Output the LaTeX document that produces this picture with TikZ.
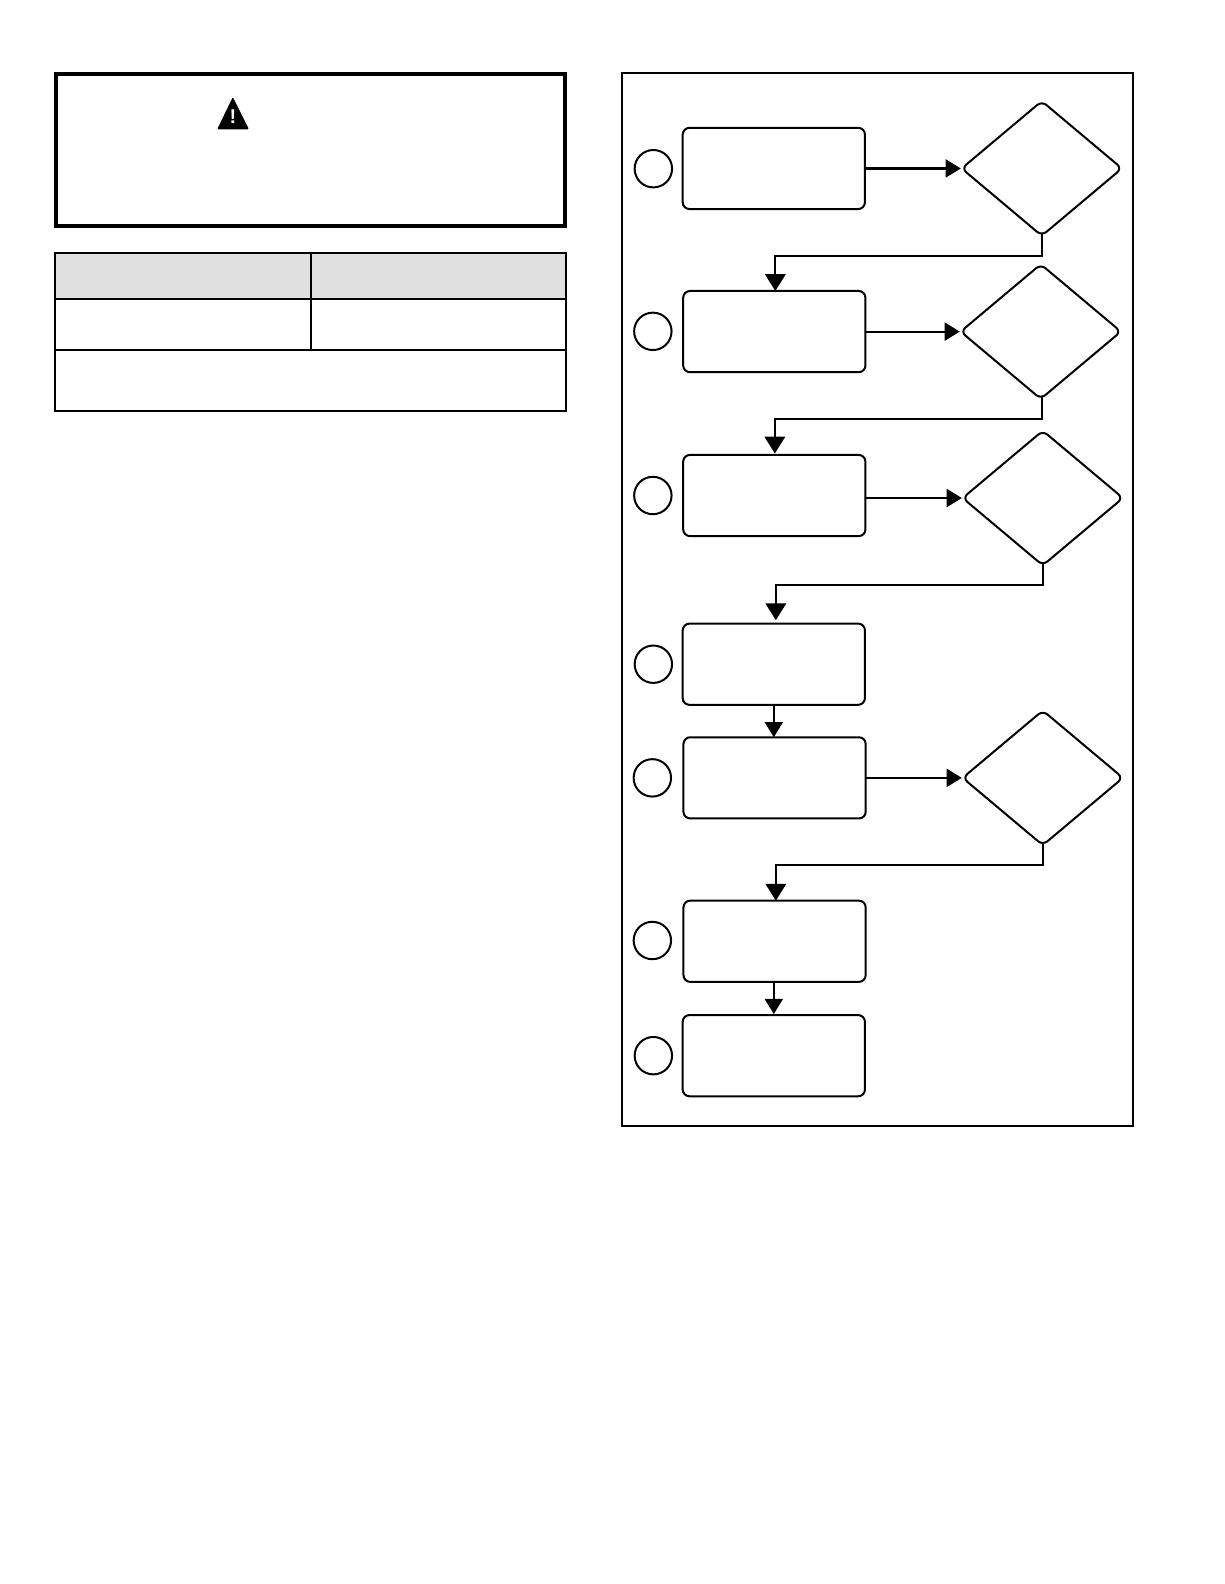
\documentclass[tikz,border=0pt]{standalone}
\usepackage{fontspec}
\setsansfont{Liberation Sans}
\usetikzlibrary{arrows.meta,shapes.geometric}
\definecolor{headgray}{HTML}{E0E0E0}
\begin{document}
\begin{tikzpicture}[
    x=0.50495bp, y=-0.50495bp,
    frame/.style={rectangle, draw, line width=1bp, inner sep=0pt, outer sep=0pt},
    warnframe/.style={frame, line width=1.9bp,
              minimum width=254.5bp, minimum height=75.7bp},
    headcell/.style={frame, fill=headgray,
              minimum width=127.8bp, minimum height=22.9bp},
    rowcell/.style={frame,
              minimum width=127.8bp, minimum height=25.5bp},
    footcell/.style={frame,
              minimum width=255.5bp, minimum height=30.3bp},
    stepbox/.style={frame, rounded corners=3.4bp,
              minimum width=91.1bp, minimum height=40.6bp},
    stepnum/.style={circle, draw, line width=1bp, inner sep=0pt, outer sep=0pt,
              minimum size=18.7bp},
    decision/.style={diamond, draw, line width=1bp, rounded corners=3bp,
              inner sep=0pt, outer sep=0pt, aspect=1.19,
              minimum width=80.1bp, minimum height=67.3bp},
    arrow/.style={-{Triangle[length=7.6bp, width=9bp]}, line width=1.1bp},
    elbow/.style={-{Triangle[length=8.4bp, width=10.2bp]}, line width=1.1bp}
]
    \useasboundingbox (0, 0) rectangle (1212, 1568);

    % warning box and table
    \node[warnframe] (warning) at (307.25, 148.5) {};
    \fill[rounded corners=0.6bp] (230.5, 96) -- (246.5, 128) -- (215, 128) -- cycle;
    \node[text=white, font=\sffamily\bfseries\normalsize, inner sep=0pt]
        (warnmark) at (230.5, 115) {!};

    \node[headcell] (heada) at (181, 273.25) {};
    \node[headcell] (headb) at (434, 273.25) {};
    \node[rowcell]  (rowa)  at (181, 321.25) {};
    \node[rowcell]  (rowb)  at (434, 321.25) {};
    \node[footcell] (foot)  at (307.25, 376.5) {};

    % flow chart
    \node[frame, minimum width=255.3bp, minimum height=526.4bp]
        (chart) at (868.75, 593.25) {};

    \node[stepbox] (box1) at (766, 166.75) {};
    \node[stepbox] (box2) at (766.5, 328.25) {};
    \node[stepbox] (box3) at (766.5, 490.5) {};
    \node[stepbox] (box4) at (766, 657.5) {};
    \node[stepbox] (box5) at (766.75, 770) {};
    \node[stepbox] (box6) at (766.75, 931.75) {};
    \node[stepbox] (box7) at (766, 1045) {};

    \node[stepnum] (num1) at (646.75, 167) {};
    \node[stepnum] (num2) at (646.25, 328) {};
    \node[stepnum] (num3) at (646.25, 490.5) {};
    \node[stepnum] (num4) at (646.75, 657.5) {};
    \node[stepnum] (num5) at (645.75, 770) {};
    \node[stepnum] (num6) at (645.75, 931) {};
    \node[stepnum] (num7) at (646.75, 1045) {};

    \node[decision] (dec1) at (1031.25, 166.75) {};
    \node[decision] (dec2) at (1030.25, 328.25) {};
    \node[decision] (dec3) at (1032.25, 493) {};
    \node[decision] (dec4) at (1032.25, 770) {};

    \coordinate (turn1) at (767.5, 253.5);
    \coordinate (turn2) at (767, 415);
    \coordinate (turn3) at (768, 579);
    \coordinate (turn4) at (768, 856);

    \draw[arrow, shorten >=0.4bp] (box1.east |- dec1.west) -- (dec1.west);
    \draw[arrow, shorten >=0.4bp] (box2.east |- dec2.west) -- (dec2.west);
    \draw[arrow, shorten >=0.4bp] (box3.east |- dec3.west) -- (dec3.west);
    \draw[arrow, shorten >=0.4bp] (box5.east |- dec4.west) -- (dec4.west);

    \draw[elbow, shorten <=-1bp] (dec1.south) |- (turn1) -- (turn1 |- box2.north);
    \draw[elbow, shorten <=-1bp, shorten >=0.7bp] (dec2.south -| 1031.5, 0) |- (turn2) -- (turn2 |- box3.north);
    \draw[elbow, shorten <=-1bp, shorten >=1.7bp] (dec3.south) |- (turn3) -- (turn3 |- box4.north);
    \draw[elbow, shorten <=-1bp] (dec4.south) |- (turn4) -- (turn4 |- box6.north);

    \draw[arrow] (box4.south) -- (box4.south |- box5.north);
    \draw[arrow, shorten >=0.5bp] (box6.south -| box7.north) -- (box7.north);
\end{tikzpicture}
\end{document}
